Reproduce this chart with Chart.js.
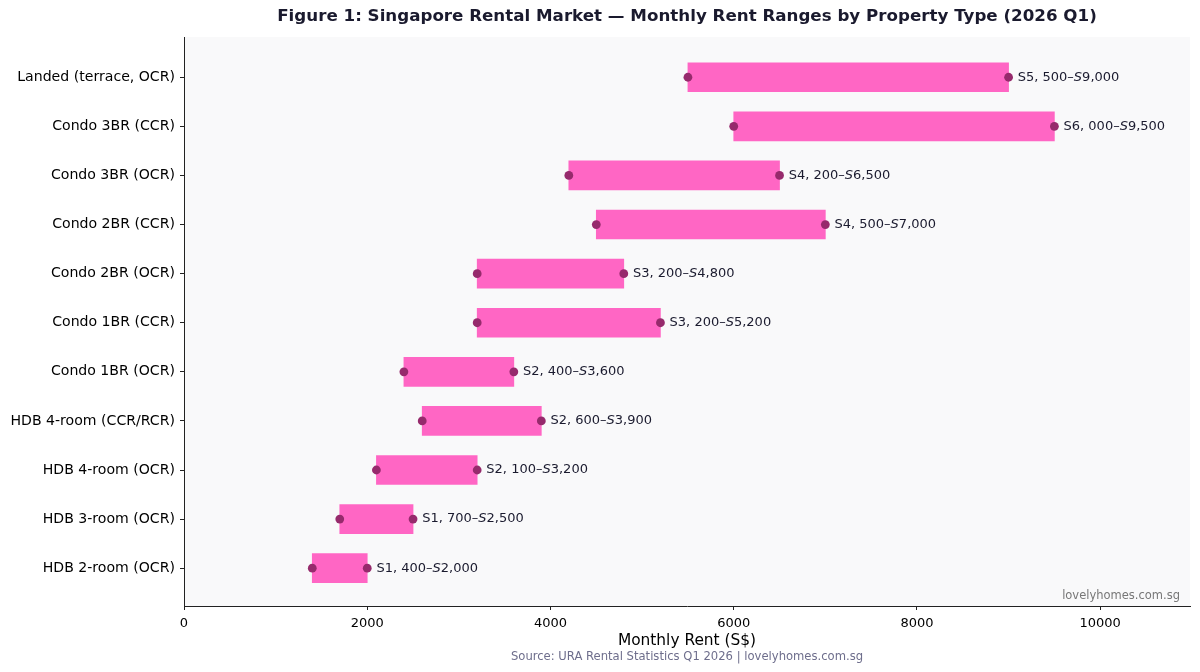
<!DOCTYPE html>
<html>
<head>
<meta charset="utf-8">
<script src="https://cdn.jsdelivr.net/npm/chart.js@4/dist/chart.umd.min.js"></script>
<style>
  html, body { margin: 0; padding: 0; background: #fff; }
  #wrap { width: 1200px; height: 672px; position: relative; }
</style>
</head>
<body>
<div id="wrap"><canvas id="chart" width="1200" height="672"></canvas></div>
<script>
// Property types, top to bottom as drawn.
const CATEGORIES = [
  'Landed (terrace, OCR)',
  'Condo 3BR (CCR)',
  'Condo 3BR (OCR)',
  'Condo 2BR (CCR)',
  'Condo 2BR (OCR)',
  'Condo 1BR (CCR)',
  'Condo 1BR (OCR)',
  'HDB 4-room (CCR/RCR)',
  'HDB 4-room (OCR)',
  'HDB 3-room (OCR)',
  'HDB 2-room (OCR)'
];
const RENT_LOW  = [5500, 6000, 4200, 4500, 3200, 3200, 2400, 2600, 2100, 1700, 1400];
const RENT_HIGH = [9000, 9500, 6500, 7000, 4800, 5200, 3600, 3900, 3200, 2500, 2000];
const X_TICKS = [0, 2000, 4000, 6000, 8000, 10000];

const TITLE = 'Figure 1: Singapore Rental Market \u2014 Monthly Rent Ranges by Property Type (2026 Q1)';
const X_TITLE = 'Monthly Rent (S$)';
const SOURCE = 'Source: URA Rental Statistics Q1 2026 | lovelyhomes.com.sg';
const WATERMARK = 'lovelyhomes.com.sg';

const BAR_COLOR = '#FF66C4';
const DOT_COLOR = '#962A6C';
const INK = '#1a1a2e';
const FONT = '"DejaVu Sans", sans-serif';

const barData = CATEGORIES.map((c, i) => ({ y: i, x: [RENT_LOW[i], RENT_HIGH[i]] }));
const dotData = [];
CATEGORIES.forEach((c, i) => {
  dotData.push({ x: RENT_LOW[i], y: i });
  dotData.push({ x: RENT_HIGH[i], y: i });
});

// mathtext-style label pieces: "S5, 500–" + italic "S" + "9,000"
function labelParts(i) {
  const lo = RENT_LOW[i].toLocaleString('en-US').replace(',', ', ');
  const hi = RENT_HIGH[i].toLocaleString('en-US');
  return [
    { text: 'S' + lo + '\u2013', italic: false },
    { text: 'S', italic: true },
    { text: hi, italic: false }
  ];
}

const decor = {
  id: 'decor',
  beforeDraw(chart) {
    const { ctx, chartArea: a } = chart;
    ctx.save();
    ctx.fillStyle = '#f9f9fa';
    ctx.fillRect(a.left, a.top, a.right - a.left, a.bottom - a.top);
    ctx.restore();
  },
  afterDatasetsDraw(chart) {
    const { ctx } = chart;
    const xs = chart.scales.x, ys = chart.scales.y;
    ctx.save();
    ctx.fillStyle = INK;
    ctx.textBaseline = 'middle';
    ctx.textAlign = 'left';
    CATEGORIES.forEach((c, i) => {
      let px = xs.getPixelForValue(RENT_HIGH[i] + 100);
      const py = ys.getPixelForValue(i);
      labelParts(i).forEach(p => {
        ctx.font = (p.italic ? 'italic ' : '') + '13px ' + FONT;
        ctx.fillText(p.text, px, py);
        px += ctx.measureText(p.text).width;
      });
    });
    ctx.restore();
  },
  afterDraw(chart) {
    const { ctx, chartArea: a } = chart;
    const cx = (a.left + a.right) / 2;
    ctx.save();
    ctx.textBaseline = 'middle';
    ctx.textAlign = 'center';
    ctx.fillStyle = INK;
    ctx.font = 'bold 16.7px ' + FONT;
    ctx.fillText(TITLE, cx, 17);
    ctx.fillStyle = '#000';
    ctx.font = '15.4px ' + FONT;
    ctx.fillText(X_TITLE, cx, 641);
    ctx.fillStyle = '#6e6e8c';
    ctx.font = '11.6px ' + FONT;
    ctx.fillText(SOURCE, cx, 657);
    ctx.textAlign = 'right';
    ctx.fillStyle = '#777';
    ctx.font = '11.5px ' + FONT;
    ctx.fillText(WATERMARK, a.right - 10, a.bottom - 10);
    ctx.restore();
  }
};

new Chart(document.getElementById('chart').getContext('2d'), {
  data: {
    datasets: [
      {
        type: 'scatter',
        data: dotData,
        backgroundColor: DOT_COLOR,
        borderColor: DOT_COLOR,
        pointRadius: 4.4,
        borderWidth: 0,
        order: 0
      },
      {
        type: 'bar',
        indexAxis: 'y',
        data: barData,
        backgroundColor: BAR_COLOR,
        borderWidth: 0,
        barThickness: 29,
        borderSkipped: false,
        order: 1
      }
    ]
  },
  options: {
    responsive: false,
    animation: false,
    indexAxis: 'y',
    layout: { padding: { top: 37, right: 10, left: 0, bottom: 0 } },
    plugins: { legend: { display: false }, tooltip: { enabled: false } },
    scales: {
      x: {
        type: 'linear',
        position: 'bottom',
        min: 0,
        max: 10980,
        offset: false,
        afterBuildTicks: s => { s.ticks = X_TICKS.map(v => ({ value: v })); },
        afterFit: s => { s.height = 66; },
        grid: { drawOnChartArea: false, drawTicks: true, tickLength: 4, color: '#222', offset: false },
        border: { display: true, color: '#222', width: 1 },
        ticks: { color: '#000', font: { family: FONT, size: 13 }, padding: 6, maxRotation: 0, callback: v => String(v) }
      },
      y: {
        type: 'linear',
        position: 'left',
        reverse: true,
        min: -0.82,
        max: 10.77,
        offset: false,
        afterBuildTicks: s => { s.ticks = CATEGORIES.map((c, i) => ({ value: i })); },
        afterFit: s => { s.width = 184; },
        grid: { drawOnChartArea: false, drawTicks: true, tickLength: 4, color: '#222', offset: false },
        border: { display: true, color: '#222', width: 1 },
        ticks: {
          color: '#000',
          font: { family: FONT, size: 14.1 },
          padding: 5,
          callback: v => CATEGORIES[v]
        }
      }
    }
  },
  plugins: [decor]
});
</script>
</body>
</html>
